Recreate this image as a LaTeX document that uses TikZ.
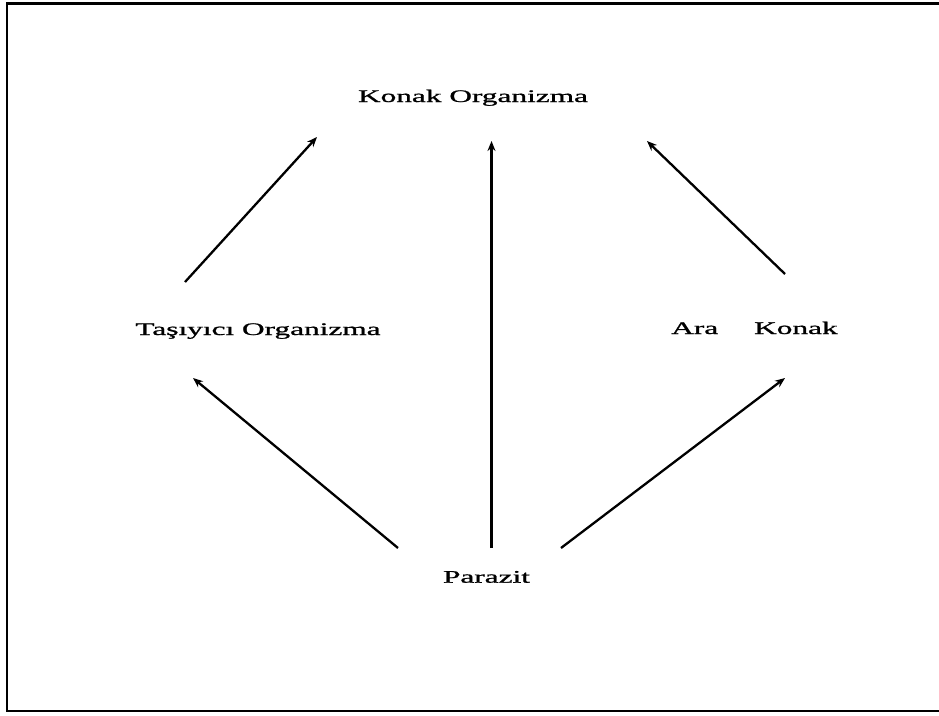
\documentclass[tikz,border=0pt]{standalone}
\usepackage{fontspec}
\setmainfont{Liberation Serif}
\newfontfamily\labelfont{Liberation Serif}[FakeBold=0.9]
\usetikzlibrary{arrows.meta}
\begin{document}
\begin{tikzpicture}[x=1pt,y=-1pt,
    lbl/.style={inner sep=0pt,anchor=base,font=\labelfont\fontsize{17.7}{20}\selectfont},
    link/.style={line width=2.3pt,-{Stealth[length=10pt,width=8pt]}},
    frameline/.style={line width=2.4pt}]
  \useasboundingbox (0,0) rectangle (939,715);
  % open frame: top, left and bottom edges
  \draw[frameline] (941,3.5) -- (7,3.5) -- (7,711) -- (941,711);

  % labels
  \node[lbl] (host) at (473,102) {\scalebox{1.77}[1]{Konak Organizma}};
  \node[lbl] (vector) at (258,335) {\scalebox{1.77}[1]{Taşıyıcı Organizma}};
  \node[lbl] (inter) at (754.5,334) {\scalebox{1.77}[1]{Ara\hspace{20.3pt}Konak}};
  \node[lbl] (parasite) at (486.5,582.7) {\scalebox{1.77}[1]{Parazit}};

  % connector end points
  \coordinate (par-l) at (398,548);
  \coordinate (par-m) at (491.5,548);
  \coordinate (par-r) at (561,548);
  \coordinate (vec-in) at (193,378);
  \coordinate (vec-out) at (185,282);
  \coordinate (int-in) at (785,378);
  \coordinate (int-out) at (785,274);
  \coordinate (host-l) at (317,137);
  \coordinate (host-m) at (491.5,141);
  \coordinate (host-r) at (647,141);

  % connectors
  \draw[link] (par-l) -- (vec-in);
  \draw[link] (par-m) -- (host-m);
  \draw[link] (par-r) -- (int-in);
  \draw[link] (vec-out) -- (host-l);
  \draw[link] (int-out) -- (host-r);
\end{tikzpicture}
\end{document}
